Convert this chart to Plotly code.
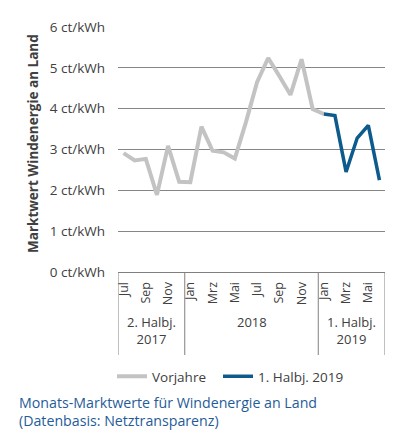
import plotly.graph_objects as go

# ---- data ----
months = ["Jul", "Aug", "Sep", "Okt", "Nov", "Dez",
          "Jan", "Feb", "Mrz", "Apr", "Mai", "Jun",
          "Jul", "Aug", "Sep", "Okt", "Nov", "Dez",
          "Jan", "Feb", "Mrz", "Apr", "Mai", "Jun"]
vorjahre = [2.91, 2.73, 2.77, 1.89, 3.09, 2.21,
            2.20, 3.56, 2.97, 2.93, 2.78, 3.67,
            4.65, 5.24, 4.80, 4.34, 5.21, 3.99,
            3.87]
halbj_2019 = [3.87, 3.83, 2.45, 3.28, 3.59, 2.25]
groups = ["2. Halbj.<br>2017", "2018", "1. Halbj.<br>2019"]
group_sizes = [6, 12, 6]
y_ticks = [0, 1, 2, 3, 4, 5, 6]
y_ticktext = [f"{v} ct/kWh" for v in y_ticks]

GRAY = "#c3c3c3"
BLUE = "#0d5a8c"
TXT = "#404040"
FONT = "Open Sans"

idx = list(range(len(months)))
x_vor = idx[:len(vorjahre)]
x_19 = idx[len(months) - len(halbj_2019):]

fig = go.Figure()
fig.add_trace(go.Scatter(x=x_vor, y=vorjahre, mode="lines", name="Vorjahre  ",
                         line=dict(color=GRAY, width=4)))
fig.add_trace(go.Scatter(x=x_19, y=halbj_2019, mode="lines", name="1. Halbj. 2019",
                         line=dict(color=BLUE, width=3.5)))

OFF = 8  # page body margin
W, H = 414 - OFF, 445 - OFF
# target plot area in window pixels: x 118..385, y 27..272
L, T = 118 - OFF, 27 - OFF
R = W - (385 - OFF)
B = H - (272 - OFF)
ph = H - T - B
pw = W - L - R


def py(px):  # window pixel y -> paper y
    return (272 - px) / ph


def pxx(px):  # window pixel x -> paper x
    return (px - 118) / pw


shapes = []
bottom = py(355)
edges = [-0.5]
for s in group_sizes:
    edges.append(edges[-1] + s)
for e in edges:
    shapes.append(dict(type="line", xref="x", yref="paper", x0=e, x1=e, y0=0, y1=bottom,
                       line=dict(color="#808080", width=1)))

annotations = []
start = -0.5
for g, s in zip(groups, group_sizes):
    annotations.append(dict(xref="x", yref="paper", x=start + s / 2, y=py(311),
                            yanchor="top", text=g, showarrow=False,
                            font=dict(family=FONT, size=13, color=TXT)))
    start += s

annotations.append(dict(xref="paper", yref="paper", x=pxx(33), y=py(144),
                        text="<b>Marktwert Windenergie an Land</b>", textangle=-90,
                        showarrow=False, xanchor="center", yanchor="middle",
                        font=dict(family=FONT, size=13.5, color=TXT)))
annotations.append(dict(xref="paper", yref="paper", x=pxx(17), y=py(391),
                        xanchor="left", yanchor="top", align="left",
                        text="Monats-Marktwerte für Windenergie an Land<br>(Datenbasis: Netztransparenz)",
                        showarrow=False,
                        font=dict(family=FONT, size=14.2, color="#1f5c99")))

fig.update_layout(
    width=W, height=H,
    margin=dict(l=L, r=R, t=T, b=B, autoexpand=False),
    paper_bgcolor="white", plot_bgcolor="white",
    font=dict(family=FONT, color=TXT),
    showlegend=True,
    legend=dict(orientation="h", x=pxx(112), xanchor="left", y=py(361), yanchor="top",
                font=dict(family=FONT, size=13.5, color=TXT),
                itemwidth=30, tracegroupgap=0),
    shapes=shapes,
    annotations=annotations,
)
fig.update_xaxes(range=[-0.5, len(months) - 0.5],
                 tickvals=idx[::2], ticktext=months[::2], tickangle=-90,
                 tickfont=dict(family=FONT, size=12.5, color=TXT),
                 showgrid=False, zeroline=False, showline=True, mirror=False,
                 linecolor="#808080", linewidth=1, ticks="", ticklabelstandoff=4,
                 fixedrange=True)
fig.update_yaxes(range=[0, 6], tickvals=y_ticks, ticktext=y_ticktext,
                 tickfont=dict(family=FONT, size=13.5, color=TXT),
                 showgrid=True, gridcolor="#868686", gridwidth=1,
                 zeroline=False, showline=False, ticks="", ticklabelstandoff=12,
                 fixedrange=True)

fig.write_html("out.html")
